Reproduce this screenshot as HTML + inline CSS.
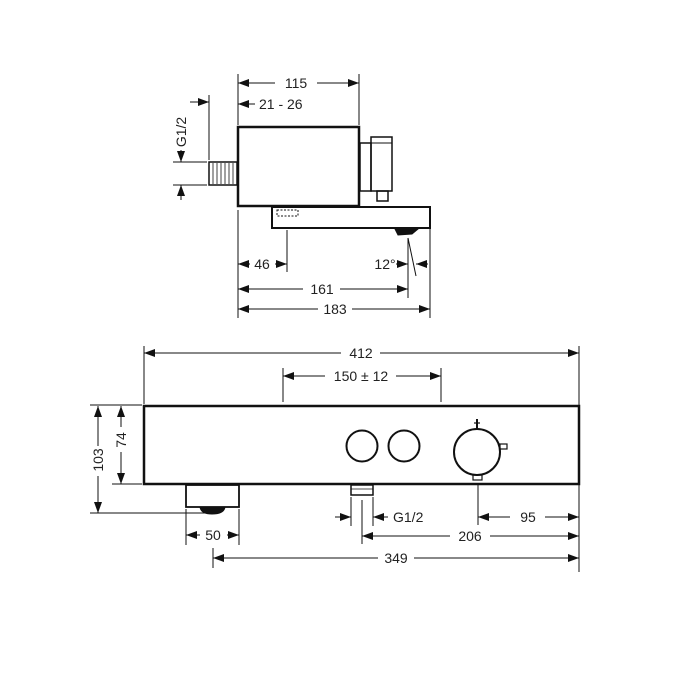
<!DOCTYPE html>
<html><head><meta charset="utf-8"><style>
html,body{margin:0;padding:0;background:#fff;}
svg{display:block;}
text{font-family:"Liberation Sans",sans-serif;font-size:14px;fill:#222;}
</style></head><body>
<svg width="700" height="700" viewBox="0 0 700 700" xmlns="http://www.w3.org/2000/svg">
<defs>
<marker id="a" markerWidth="12" markerHeight="8" refX="11" refY="4" orient="auto-start-reverse" markerUnits="userSpaceOnUse">
<path d="M0,0 L11,4 L0,8 Z" fill="#111"/>
</marker>
</defs>
<g stroke="#111" fill="none">
<rect x="238" y="127" width="121" height="79" stroke-width="2.5"/>
<rect x="209" y="162" width="28" height="23" stroke-width="1.5"/>
<g stroke-width="0.8"><line x1="213" y1="163" x2="213" y2="184"/><line x1="217" y1="163" x2="217" y2="184"/><line x1="221" y1="163" x2="221" y2="184"/><line x1="225" y1="163" x2="225" y2="184"/><line x1="229" y1="163" x2="229" y2="184"/><line x1="233" y1="163" x2="233" y2="184"/></g>
<rect x="360" y="143" width="11" height="48" stroke-width="1.5"/>
<rect x="371" y="137" width="21" height="54" stroke-width="1.5"/>
<line x1="371" y1="143" x2="392" y2="143" stroke-width="1"/>
<rect x="377" y="191" width="11" height="10" stroke-width="1.5"/>
<rect x="272" y="207" width="158" height="21" stroke-width="2"/>
<rect x="277" y="210" width="21" height="6" stroke-width="1" stroke-dasharray="2,1.5"/>
<path d="M395,229 L418,229 L412,234 L398,235 Z" fill="#111" stroke-width="1"/>
<line x1="408" y1="238" x2="416" y2="276" stroke-width="1"/>
<g stroke-width="1">
<line x1="238" y1="74" x2="238" y2="125"/><line x1="359" y1="74" x2="359" y2="125"/>
<line x1="238" y1="83" x2="275" y2="83" marker-start="url(#a)"/><line x1="317" y1="83" x2="359" y2="83" marker-end="url(#a)"/>
<line x1="238" y1="104" x2="255" y2="104" marker-start="url(#a)"/>
<line x1="209" y1="95" x2="209" y2="160"/>
<line x1="190" y1="102" x2="209" y2="102" marker-end="url(#a)"/>
<line x1="173" y1="162" x2="207" y2="162"/><line x1="173" y1="185" x2="207" y2="185"/>
<line x1="181" y1="150" x2="181" y2="162" marker-end="url(#a)"/>
<line x1="181" y1="200" x2="181" y2="185" marker-end="url(#a)"/>
<line x1="238" y1="210" x2="238" y2="318"/><line x1="430" y1="229" x2="430" y2="318"/>
<line x1="287" y1="230" x2="287" y2="272"/><line x1="408" y1="238" x2="408" y2="298"/>
<line x1="238" y1="264" x2="250" y2="264" marker-start="url(#a)"/><line x1="275" y1="264" x2="287" y2="264" marker-end="url(#a)"/>
<line x1="396" y1="264" x2="408" y2="264" marker-end="url(#a)"/>
<line x1="428" y1="264" x2="416" y2="264" marker-end="url(#a)"/>
<line x1="238" y1="289" x2="303" y2="289" marker-start="url(#a)"/><line x1="340" y1="289" x2="408" y2="289" marker-end="url(#a)"/>
<line x1="238" y1="309" x2="318" y2="309" marker-start="url(#a)"/><line x1="352" y1="309" x2="430" y2="309" marker-end="url(#a)"/>
</g>
<rect x="144" y="406" width="435" height="78" stroke-width="2.5"/>
<circle cx="362" cy="446" r="15.5" stroke-width="2"/>
<circle cx="404" cy="446" r="15.5" stroke-width="2"/>
<circle cx="477" cy="452" r="23" stroke-width="2"/>
<line x1="477" y1="419" x2="477" y2="429" stroke-width="2"/>
<line x1="474" y1="423" x2="480" y2="423" stroke-width="1.2"/>
<rect x="500" y="444" width="7" height="5" stroke-width="1.2"/>
<rect x="473" y="475" width="9" height="5" stroke-width="1.2"/>
<rect x="186" y="485" width="53" height="22" stroke-width="1.8"/>
<path d="M200,507 L225,507 Q224,514 212,514 Q201,514 200,507 Z" fill="#111" stroke-width="1"/>
<rect x="351" y="485" width="22" height="10" stroke-width="1.5"/>
<line x1="351" y1="489" x2="373" y2="489" stroke-width="0.8"/>
<g stroke-width="1">
<line x1="144" y1="346" x2="144" y2="404"/><line x1="579" y1="346" x2="579" y2="572"/>
<line x1="144" y1="353" x2="341" y2="353" marker-start="url(#a)"/><line x1="380" y1="353" x2="579" y2="353" marker-end="url(#a)"/>
<line x1="283" y1="368" x2="283" y2="402"/><line x1="441" y1="368" x2="441" y2="402"/>
<line x1="283" y1="376" x2="325" y2="376" marker-start="url(#a)"/><line x1="396" y1="376" x2="441" y2="376" marker-end="url(#a)"/>
<line x1="90" y1="405" x2="142" y2="405"/><line x1="112" y1="484" x2="142" y2="484"/><line x1="90" y1="513" x2="205" y2="513"/>
<line x1="98" y1="446" x2="98" y2="406" marker-end="url(#a)"/><line x1="98" y1="476" x2="98" y2="513" marker-end="url(#a)"/>
<line x1="121" y1="427" x2="121" y2="406" marker-end="url(#a)"/><line x1="121" y1="452" x2="121" y2="484" marker-end="url(#a)"/>
<line x1="186" y1="509" x2="186" y2="545"/><line x1="239" y1="509" x2="239" y2="545"/>
<line x1="186" y1="535" x2="200" y2="535" marker-start="url(#a)"/><line x1="227" y1="535" x2="239" y2="535" marker-end="url(#a)"/>
<line x1="213" y1="548" x2="213" y2="568"/>
<line x1="213" y1="558" x2="378" y2="558" marker-start="url(#a)"/><line x1="414" y1="558" x2="579" y2="558" marker-end="url(#a)"/>
<line x1="351" y1="497" x2="351" y2="526"/><line x1="373" y1="497" x2="373" y2="526"/>
<line x1="362" y1="500" x2="362" y2="544"/>
<line x1="335" y1="517" x2="351" y2="517" marker-end="url(#a)"/>
<line x1="388" y1="517" x2="373" y2="517" marker-end="url(#a)"/>
<line x1="478" y1="484" x2="478" y2="525"/>
<line x1="478" y1="517" x2="510" y2="517" marker-start="url(#a)"/><line x1="545" y1="517" x2="579" y2="517" marker-end="url(#a)"/>
<line x1="362" y1="536" x2="450" y2="536" marker-start="url(#a)"/><line x1="490" y1="536" x2="579" y2="536" marker-end="url(#a)"/>
</g>
</g>
<g>
<text x="296" y="88" text-anchor="middle">115</text>
<text x="259" y="109">21 - 26</text>
<text transform="translate(186,132) rotate(-90)" text-anchor="middle">G1/2</text>
<text x="262" y="269" text-anchor="middle">46</text>
<text x="385" y="269" text-anchor="middle">12°</text>
<text x="322" y="294" text-anchor="middle">161</text>
<text x="335" y="314" text-anchor="middle">183</text>
<text x="361" y="358" text-anchor="middle">412</text>
<text x="361" y="381" text-anchor="middle">150 ± 12</text>
<text transform="translate(103,460) rotate(-90)" text-anchor="middle">103</text>
<text transform="translate(126,440) rotate(-90)" text-anchor="middle">74</text>
<text x="213" y="540" text-anchor="middle">50</text>
<text x="393" y="522">G1/2</text>
<text x="528" y="522" text-anchor="middle">95</text>
<text x="470" y="541" text-anchor="middle">206</text>
<text x="396" y="563" text-anchor="middle">349</text>
</g>
</svg>
</body></html>
